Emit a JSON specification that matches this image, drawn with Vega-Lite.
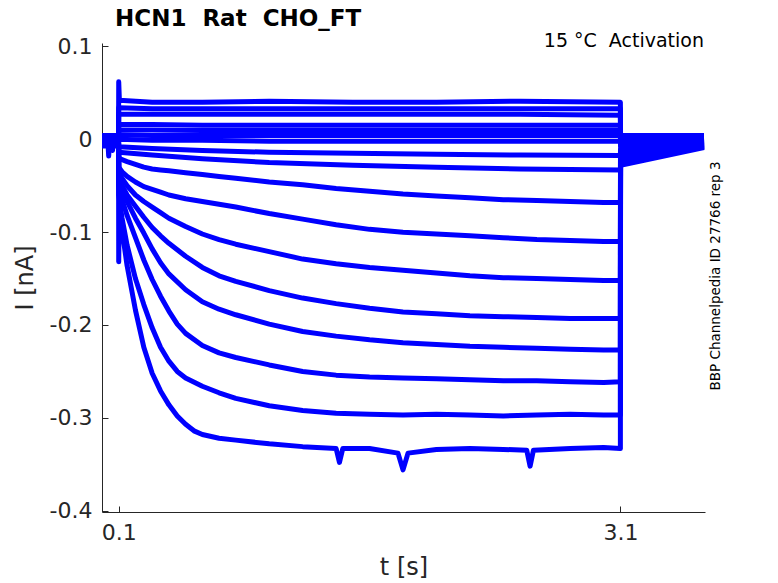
{
  "$schema": "https://vega.github.io/schema/vega-lite/v6.json",
  "autosize": "none",
  "width": 603,
  "height": 469,
  "padding": {"left": 102, "top": 43, "right": 73, "bottom": 71},
  "background": "white",
  "title": {
    "text": "HCN1\u00a0 Rat\u00a0 CHO_FT",
    "anchor": "start",
    "frame": "group",
    "dx": 13,
    "offset": 1,
    "fontSize": 23,
    "fontWeight": "bold",
    "font": "DejaVu Sans",
    "color": "black"
  },
  "datasets": {
    "traces": [
      {"s":1,"t":0,"v":0.004},{"s":1,"t":0.05,"v":0.004},{"s":1,"t":0.099,"v":0.004},{"s":1,"t":0.1,"v":0.062},{"s":1,"t":0.104,"v":0.042},{"s":1,"t":0.3,"v":0.04},{"s":1,"t":0.6,"v":0.04},{"s":1,"t":1.0,"v":0.041},{"s":1,"t":1.5,"v":0.04},{"s":1,"t":2.0,"v":0.04},{"s":1,"t":2.5,"v":0.041},{"s":1,"t":3.1,"v":0.04},{"s":1,"t":3.101,"v":0.004},{"s":1,"t":3.6,"v":0.004},
      {"s":2,"t":0,"v":0.0033},{"s":2,"t":0.05,"v":0.0033},{"s":2,"t":0.099,"v":0.0033},{"s":2,"t":0.1,"v":0.034},{"s":2,"t":0.3,"v":0.033},{"s":2,"t":0.6,"v":0.033},{"s":2,"t":1.0,"v":0.033},{"s":2,"t":1.5,"v":0.033},{"s":2,"t":2.0,"v":0.033},{"s":2,"t":2.5,"v":0.033},{"s":2,"t":3.1,"v":0.033},{"s":2,"t":3.101,"v":0.002},{"s":2,"t":3.6,"v":0.0032},
      {"s":3,"t":0,"v":0.0026},{"s":3,"t":0.05,"v":0.0026},{"s":3,"t":0.099,"v":0.0026},{"s":3,"t":0.1,"v":0.027},{"s":3,"t":0.3,"v":0.027},{"s":3,"t":0.6,"v":0.027},{"s":3,"t":1.0,"v":0.027},{"s":3,"t":1.5,"v":0.027},{"s":3,"t":2.0,"v":0.027},{"s":3,"t":2.5,"v":0.027},{"s":3,"t":3.1,"v":0.026},{"s":3,"t":3.101,"v":0},{"s":3,"t":3.6,"v":0.0024},
      {"s":4,"t":0,"v":0.0019},{"s":4,"t":0.05,"v":0.0019},{"s":4,"t":0.099,"v":0.0019},{"s":4,"t":0.1,"v":0.016},{"s":4,"t":0.3,"v":0.016},{"s":4,"t":0.6,"v":0.015},{"s":4,"t":1.0,"v":0.015},{"s":4,"t":1.5,"v":0.015},{"s":4,"t":2.0,"v":0.015},{"s":4,"t":2.5,"v":0.015},{"s":4,"t":3.1,"v":0.015},{"s":4,"t":3.101,"v":-0.002},{"s":4,"t":3.6,"v":0.0016},
      {"s":5,"t":0,"v":0.0012},{"s":5,"t":0.05,"v":0.0012},{"s":5,"t":0.099,"v":0.0012},{"s":5,"t":0.1,"v":0.01},{"s":5,"t":0.3,"v":0.01},{"s":5,"t":0.6,"v":0.0095},{"s":5,"t":1.0,"v":0.0095},{"s":5,"t":1.5,"v":0.0095},{"s":5,"t":2.0,"v":0.0095},{"s":5,"t":2.5,"v":0.0095},{"s":5,"t":3.1,"v":0.0095},{"s":5,"t":3.101,"v":-0.004},{"s":5,"t":3.6,"v":0.0008},
      {"s":6,"t":0,"v":0.0005},{"s":6,"t":0.05,"v":0.0005},{"s":6,"t":0.099,"v":0.0005},{"s":6,"t":0.1,"v":0.005},{"s":6,"t":0.3,"v":0.004},{"s":6,"t":0.6,"v":0.004},{"s":6,"t":1.0,"v":0.004},{"s":6,"t":1.5,"v":0.004},{"s":6,"t":2.0,"v":0.004},{"s":6,"t":2.5,"v":0.004},{"s":6,"t":3.1,"v":0.004},{"s":6,"t":3.101,"v":-0.006},{"s":6,"t":3.6,"v":0},
      {"s":7,"t":0,"v":-0.0002},{"s":7,"t":0.05,"v":-0.0002},{"s":7,"t":0.099,"v":-0.0002},{"s":7,"t":0.1,"v":0},{"s":7,"t":0.3,"v":-0.001},{"s":7,"t":0.6,"v":-0.001},{"s":7,"t":1.0,"v":-0.002},{"s":7,"t":1.5,"v":-0.002},{"s":7,"t":2.0,"v":-0.002},{"s":7,"t":2.5,"v":-0.002},{"s":7,"t":3.1,"v":-0.002},{"s":7,"t":3.101,"v":-0.008},{"s":7,"t":3.6,"v":-0.0008},
      {"s":8,"t":0,"v":-0.0009},{"s":8,"t":0.05,"v":-0.0009},{"s":8,"t":0.099,"v":-0.0009},{"s":8,"t":0.1,"v":-0.008},{"s":8,"t":0.3,"v":-0.01},{"s":8,"t":0.6,"v":-0.012},{"s":8,"t":1.0,"v":-0.014},{"s":8,"t":1.5,"v":-0.015},{"s":8,"t":2.0,"v":-0.016},{"s":8,"t":2.5,"v":-0.017},{"s":8,"t":3.1,"v":-0.0175},{"s":8,"t":3.101,"v":-0.01},{"s":8,"t":3.6,"v":-0.0016},
      {"s":9,"t":0,"v":-0.0016},{"s":9,"t":0.035,"v":-0.0016},{"s":9,"t":0.04,"v":-0.018},{"s":9,"t":0.045,"v":-0.0016},{"s":9,"t":0.099,"v":-0.0016},{"s":9,"t":0.1,"v":-0.014},{"s":9,"t":0.3,"v":-0.017},{"s":9,"t":0.6,"v":-0.021},{"s":9,"t":1.0,"v":-0.025},{"s":9,"t":1.5,"v":-0.028},{"s":9,"t":2.0,"v":-0.03},{"s":9,"t":2.5,"v":-0.032},{"s":9,"t":3.1,"v":-0.033},{"s":9,"t":3.101,"v":-0.012},{"s":9,"t":3.6,"v":-0.0024},
      {"s":10,"t":0,"v":-0.0023},{"s":10,"t":0.05,"v":-0.0023},{"s":10,"t":0.099,"v":-0.0023},{"s":10,"t":0.1,"v":-0.02},{"s":10,"t":0.12,"v":-0.022},{"s":10,"t":0.15,"v":-0.024},{"s":10,"t":0.2,"v":-0.027},{"s":10,"t":0.25,"v":-0.03},{"s":10,"t":0.3,"v":-0.032},{"s":10,"t":0.35,"v":-0.033},{"s":10,"t":0.4,"v":-0.034},{"s":10,"t":0.5,"v":-0.036},{"s":10,"t":0.6,"v":-0.038},{"s":10,"t":0.7,"v":-0.04},{"s":10,"t":0.8,"v":-0.042},{"s":10,"t":1.0,"v":-0.046},{"s":10,"t":1.2,"v":-0.049},{"s":10,"t":1.4,"v":-0.053},{"s":10,"t":1.6,"v":-0.056},{"s":10,"t":1.8,"v":-0.059},{"s":10,"t":2.0,"v":-0.061},{"s":10,"t":2.2,"v":-0.063},{"s":10,"t":2.4,"v":-0.065},{"s":10,"t":2.6,"v":-0.066},{"s":10,"t":2.8,"v":-0.067},{"s":10,"t":3.0,"v":-0.068},{"s":10,"t":3.1,"v":-0.068},{"s":10,"t":3.101,"v":-0.014},{"s":10,"t":3.6,"v":-0.0032},
      {"s":11,"t":0,"v":-0.003},{"s":11,"t":0.05,"v":-0.003},{"s":11,"t":0.099,"v":-0.003},{"s":11,"t":0.1,"v":-0.03},{"s":11,"t":0.12,"v":-0.035},{"s":11,"t":0.15,"v":-0.04},{"s":11,"t":0.2,"v":-0.046},{"s":11,"t":0.25,"v":-0.051},{"s":11,"t":0.3,"v":-0.054},{"s":11,"t":0.35,"v":-0.057},{"s":11,"t":0.4,"v":-0.06},{"s":11,"t":0.5,"v":-0.064},{"s":11,"t":0.6,"v":-0.067},{"s":11,"t":0.7,"v":-0.07},{"s":11,"t":0.8,"v":-0.073},{"s":11,"t":1.0,"v":-0.08},{"s":11,"t":1.2,"v":-0.086},{"s":11,"t":1.4,"v":-0.092},{"s":11,"t":1.6,"v":-0.097},{"s":11,"t":1.8,"v":-0.1},{"s":11,"t":2.0,"v":-0.102},{"s":11,"t":2.2,"v":-0.104},{"s":11,"t":2.4,"v":-0.106},{"s":11,"t":2.6,"v":-0.108},{"s":11,"t":2.8,"v":-0.109},{"s":11,"t":3.0,"v":-0.11},{"s":11,"t":3.1,"v":-0.11},{"s":11,"t":3.101,"v":-0.016},{"s":11,"t":3.6,"v":-0.004},
      {"s":12,"t":0,"v":-0.0037},{"s":12,"t":0.058,"v":-0.0037},{"s":12,"t":0.063,"v":-0.012},{"s":12,"t":0.068,"v":-0.0037},{"s":12,"t":0.099,"v":-0.0037},{"s":12,"t":0.1,"v":-0.035},{"s":12,"t":0.12,"v":-0.042},{"s":12,"t":0.15,"v":-0.05},{"s":12,"t":0.2,"v":-0.06},{"s":12,"t":0.25,"v":-0.067},{"s":12,"t":0.3,"v":-0.073},{"s":12,"t":0.35,"v":-0.079},{"s":12,"t":0.4,"v":-0.085},{"s":12,"t":0.5,"v":-0.094},{"s":12,"t":0.6,"v":-0.102},{"s":12,"t":0.7,"v":-0.108},{"s":12,"t":0.8,"v":-0.113},{"s":12,"t":1.0,"v":-0.121},{"s":12,"t":1.2,"v":-0.129},{"s":12,"t":1.4,"v":-0.134},{"s":12,"t":1.6,"v":-0.138},{"s":12,"t":1.8,"v":-0.141},{"s":12,"t":2.0,"v":-0.144},{"s":12,"t":2.2,"v":-0.147},{"s":12,"t":2.4,"v":-0.149},{"s":12,"t":2.6,"v":-0.15},{"s":12,"t":2.8,"v":-0.151},{"s":12,"t":3.0,"v":-0.152},{"s":12,"t":3.1,"v":-0.152},{"s":12,"t":3.101,"v":-0.018},{"s":12,"t":3.6,"v":-0.0048},
      {"s":13,"t":0,"v":-0.0044},{"s":13,"t":0.05,"v":-0.0044},{"s":13,"t":0.099,"v":-0.0044},{"s":13,"t":0.1,"v":-0.04},{"s":13,"t":0.12,"v":-0.05},{"s":13,"t":0.15,"v":-0.06},{"s":13,"t":0.2,"v":-0.072},{"s":13,"t":0.25,"v":-0.084},{"s":13,"t":0.3,"v":-0.095},{"s":13,"t":0.35,"v":-0.104},{"s":13,"t":0.4,"v":-0.112},{"s":13,"t":0.5,"v":-0.126},{"s":13,"t":0.6,"v":-0.138},{"s":13,"t":0.7,"v":-0.147},{"s":13,"t":0.8,"v":-0.153},{"s":13,"t":1.0,"v":-0.163},{"s":13,"t":1.2,"v":-0.171},{"s":13,"t":1.4,"v":-0.177},{"s":13,"t":1.6,"v":-0.182},{"s":13,"t":1.8,"v":-0.186},{"s":13,"t":2.0,"v":-0.188},{"s":13,"t":2.2,"v":-0.19},{"s":13,"t":2.4,"v":-0.191},{"s":13,"t":2.6,"v":-0.192},{"s":13,"t":2.8,"v":-0.193},{"s":13,"t":3.0,"v":-0.193},{"s":13,"t":3.1,"v":-0.193},{"s":13,"t":3.101,"v":-0.02},{"s":13,"t":3.6,"v":-0.0056},
      {"s":14,"t":0,"v":-0.0051},{"s":14,"t":0.05,"v":-0.0051},{"s":14,"t":0.099,"v":-0.0051},{"s":14,"t":0.1,"v":-0.045},{"s":14,"t":0.12,"v":-0.055},{"s":14,"t":0.15,"v":-0.067},{"s":14,"t":0.2,"v":-0.085},{"s":14,"t":0.25,"v":-0.101},{"s":14,"t":0.3,"v":-0.118},{"s":14,"t":0.35,"v":-0.133},{"s":14,"t":0.4,"v":-0.145},{"s":14,"t":0.5,"v":-0.162},{"s":14,"t":0.6,"v":-0.175},{"s":14,"t":0.7,"v":-0.183},{"s":14,"t":0.8,"v":-0.189},{"s":14,"t":1.0,"v":-0.199},{"s":14,"t":1.2,"v":-0.207},{"s":14,"t":1.4,"v":-0.212},{"s":14,"t":1.6,"v":-0.216},{"s":14,"t":1.8,"v":-0.219},{"s":14,"t":2.0,"v":-0.221},{"s":14,"t":2.2,"v":-0.223},{"s":14,"t":2.4,"v":-0.224},{"s":14,"t":2.6,"v":-0.225},{"s":14,"t":2.8,"v":-0.226},{"s":14,"t":3.0,"v":-0.227},{"s":14,"t":3.1,"v":-0.227},{"s":14,"t":3.101,"v":-0.022},{"s":14,"t":3.6,"v":-0.0064},
      {"s":15,"t":0,"v":-0.0058},{"s":15,"t":0.05,"v":-0.0058},{"s":15,"t":0.099,"v":-0.0058},{"s":15,"t":0.1,"v":-0.05},{"s":15,"t":0.12,"v":-0.065},{"s":15,"t":0.15,"v":-0.082},{"s":15,"t":0.2,"v":-0.106},{"s":15,"t":0.25,"v":-0.13},{"s":15,"t":0.3,"v":-0.151},{"s":15,"t":0.35,"v":-0.169},{"s":15,"t":0.4,"v":-0.185},{"s":15,"t":0.45,"v":-0.199},{"s":15,"t":0.5,"v":-0.209},{"s":15,"t":0.6,"v":-0.222},{"s":15,"t":0.7,"v":-0.23},{"s":15,"t":0.8,"v":-0.235},{"s":15,"t":1.0,"v":-0.243},{"s":15,"t":1.2,"v":-0.25},{"s":15,"t":1.4,"v":-0.254},{"s":15,"t":1.6,"v":-0.256},{"s":15,"t":1.8,"v":-0.257},{"s":15,"t":2.0,"v":-0.258},{"s":15,"t":2.2,"v":-0.259},{"s":15,"t":2.4,"v":-0.26},{"s":15,"t":2.6,"v":-0.26},{"s":15,"t":2.8,"v":-0.261},{"s":15,"t":3.0,"v":-0.262},{"s":15,"t":3.1,"v":-0.261},{"s":15,"t":3.101,"v":-0.024},{"s":15,"t":3.6,"v":-0.0072},
      {"s":16,"t":0,"v":-0.0065},{"s":16,"t":0.05,"v":-0.0065},{"s":16,"t":0.099,"v":-0.0065},{"s":16,"t":0.1,"v":-0.06},{"s":16,"t":0.12,"v":-0.085},{"s":16,"t":0.15,"v":-0.114},{"s":16,"t":0.2,"v":-0.15},{"s":16,"t":0.25,"v":-0.178},{"s":16,"t":0.3,"v":-0.203},{"s":16,"t":0.35,"v":-0.224},{"s":16,"t":0.4,"v":-0.239},{"s":16,"t":0.45,"v":-0.25},{"s":16,"t":0.5,"v":-0.257},{"s":16,"t":0.6,"v":-0.266},{"s":16,"t":0.7,"v":-0.273},{"s":16,"t":0.8,"v":-0.279},{"s":16,"t":1.0,"v":-0.287},{"s":16,"t":1.2,"v":-0.292},{"s":16,"t":1.4,"v":-0.295},{"s":16,"t":1.6,"v":-0.296},{"s":16,"t":1.8,"v":-0.297},{"s":16,"t":2.0,"v":-0.296},{"s":16,"t":2.2,"v":-0.297},{"s":16,"t":2.4,"v":-0.298},{"s":16,"t":2.6,"v":-0.297},{"s":16,"t":2.8,"v":-0.296},{"s":16,"t":3.0,"v":-0.297},{"s":16,"t":3.1,"v":-0.297},{"s":16,"t":3.101,"v":-0.026},{"s":16,"t":3.6,"v":-0.008},
      {"s":17,"t":0,"v":-0.0072},{"s":17,"t":0.05,"v":-0.0072},{"s":17,"t":0.099,"v":-0.0072},{"s":17,"t":0.1,"v":-0.132},{"s":17,"t":0.103,"v":-0.07},{"s":17,"t":0.12,"v":-0.098},{"s":17,"t":0.15,"v":-0.136},{"s":17,"t":0.2,"v":-0.184},{"s":17,"t":0.25,"v":-0.224},{"s":17,"t":0.3,"v":-0.252},{"s":17,"t":0.35,"v":-0.271},{"s":17,"t":0.4,"v":-0.286},{"s":17,"t":0.45,"v":-0.298},{"s":17,"t":0.5,"v":-0.307},{"s":17,"t":0.55,"v":-0.314},{"s":17,"t":0.6,"v":-0.318},{"s":17,"t":0.7,"v":-0.322},{"s":17,"t":0.8,"v":-0.324},{"s":17,"t":1.0,"v":-0.328},{"s":17,"t":1.2,"v":-0.331},{"s":17,"t":1.4,"v":-0.333},{"s":17,"t":1.42,"v":-0.348},{"s":17,"t":1.44,"v":-0.333},{"s":17,"t":1.6,"v":-0.333},{"s":17,"t":1.77,"v":-0.338},{"s":17,"t":1.8,"v":-0.356},{"s":17,"t":1.83,"v":-0.338},{"s":17,"t":2.0,"v":-0.334},{"s":17,"t":2.2,"v":-0.333},{"s":17,"t":2.4,"v":-0.334},{"s":17,"t":2.54,"v":-0.335},{"s":17,"t":2.56,"v":-0.352},{"s":17,"t":2.58,"v":-0.335},{"s":17,"t":2.8,"v":-0.333},{"s":17,"t":3.0,"v":-0.332},{"s":17,"t":3.1,"v":-0.333},{"s":17,"t":3.101,"v":-0.028},{"s":17,"t":3.6,"v":-0.0088}
    ]
  },
  "layer": [
    {
      "data": {"name": "traces"},
      "mark": {"type": "line", "color": "#0000ff", "strokeWidth": 5, "strokeJoin": "round", "strokeCap": "butt"},
      "encoding": {
        "x": {
          "field": "t",
          "type": "quantitative",
          "scale": {"domain": [0, 3.606], "nice": false, "zero": false},
          "axis": {
            "title": "t [s]",
            "values": [0.1, 3.1],
            "labelExpr": "'' + datum.value",
            "grid": false,
            "tickSize": -6,
            "labelPadding": 16,
            "titlePadding": 12
          }
        },
        "y": {
          "field": "v",
          "type": "quantitative",
          "scale": {"domain": [-0.4014, 0.1037], "nice": false, "zero": false},
          "axis": {
            "title": "I [nA]",
            "values": [-0.4, -0.3, -0.2, -0.1, 0, 0.1],
            "labelExpr": "'' + datum.value",
            "grid": false,
            "tickSize": -6,
            "labelPadding": 16,
            "titlePadding": 12
          }
        },
        "detail": {"field": "s", "type": "nominal"}
      }
    },
    {
      "data": {"values": [{"t": 3.6, "v": 0.0994, "label": "15 °C\u00a0 Activation"}]},
      "mark": {"type": "text", "align": "right", "baseline": "alphabetic", "fontSize": 19, "font": "DejaVu Sans", "color": "black"},
      "encoding": {
        "x": {"field": "t", "type": "quantitative"},
        "y": {"field": "v", "type": "quantitative"},
        "text": {"field": "label"}
      }
    },
    {
      "data": {"values": [{"t": 3.672, "v": -0.1472, "label": "BBP Channelpedia ID 27766 rep 3"}]},
      "mark": {"type": "text", "align": "center", "baseline": "middle", "angle": 270, "fontSize": 13.5, "font": "DejaVu Sans", "color": "black"},
      "encoding": {
        "x": {"field": "t", "type": "quantitative"},
        "y": {"field": "v", "type": "quantitative"},
        "text": {"field": "label"}
      }
    }
  ],
  "config": {
    "view": {"stroke": null},
    "font": "DejaVu Sans",
    "axis": {
      "domainColor": "#262626",
      "tickColor": "#262626",
      "labelColor": "#262626",
      "titleColor": "#262626",
      "labelFontSize": 22,
      "titleFontSize": 24,
      "titleFontWeight": "normal",
      "labelFont": "DejaVu Sans",
      "titleFont": "DejaVu Sans"
    }
  }
}
